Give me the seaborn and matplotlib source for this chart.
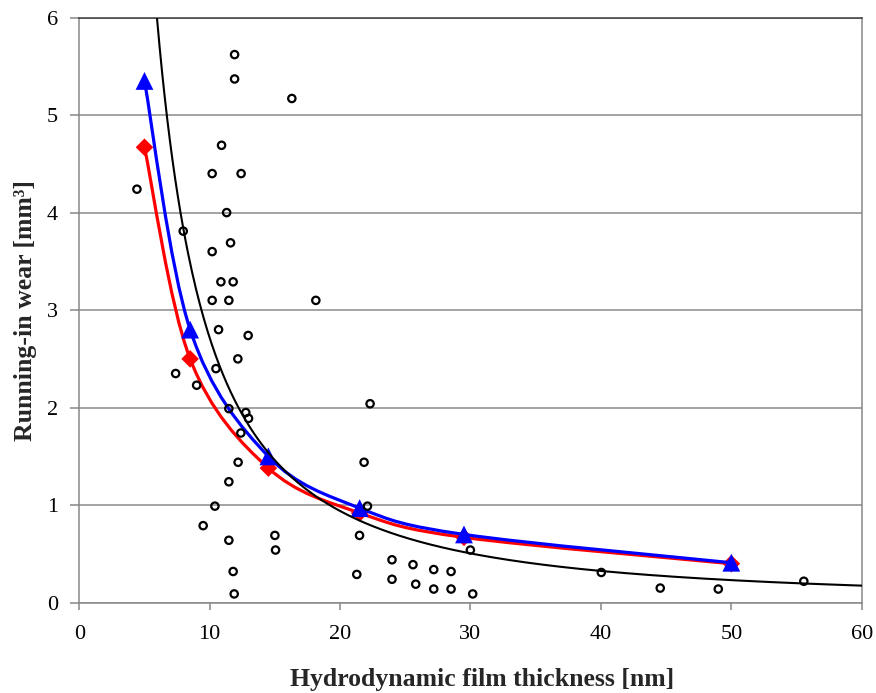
import numpy as np
import pandas as pd
import matplotlib
matplotlib.use("Agg")
import matplotlib.pyplot as plt
from matplotlib.path import Path
from matplotlib.patches import PathPatch
import seaborn as sns

# Measured running-in wear versus hydrodynamic film thickness
film_nm = [11.91, 11.91, 16.30, 10.91, 10.19, 12.41, 4.42, 11.30, 7.97, 11.60,
           10.19, 10.86, 11.80, 10.19, 11.47, 18.14, 10.68, 12.95, 12.16, 10.48,
           7.39, 9.00, 11.47, 12.77, 12.98, 12.39, 12.18, 11.47, 10.40, 9.50,
           11.47, 15.00, 15.05, 11.80, 11.88, 22.30, 21.84, 22.10, 21.49, 21.28,
           23.98, 23.98, 25.59, 25.80, 27.18, 27.18, 28.51, 28.51, 29.99, 30.17,
           40.03, 44.55, 49.00, 55.56]
wear_mm3 = [5.62, 5.37, 5.17, 4.69, 4.40, 4.40, 4.24, 4.00, 3.81, 3.69,
            3.60, 3.29, 3.29, 3.10, 3.10, 3.10, 2.80, 2.74, 2.50, 2.40,
            2.35, 2.23, 1.99, 1.95, 1.89, 1.74, 1.44, 1.24, 0.99, 0.79,
            0.64, 0.69, 0.54, 0.32, 0.09, 2.04, 1.44, 0.99, 0.69, 0.29,
            0.44, 0.24, 0.39, 0.19, 0.34, 0.14, 0.32, 0.14, 0.54, 0.09,
            0.31, 0.15, 0.14, 0.22]

# Model series evaluated at fixed film thicknesses
model_film = [5.0, 8.5, 14.5, 21.5, 29.5, 50.0]
model_blue = [5.35, 2.80, 1.50, 0.97, 0.70, 0.41]
model_red = [4.67, 2.50, 1.38, 0.92, 0.67, 0.40]

# Power-law trendline  wear = A * h^B
TREND_A = 92.0
TREND_B = -1.53

x_ticks = [0, 10, 20, 30, 40, 50, 60]
y_ticks = [0, 1, 2, 3, 4, 5, 6]

sns.set_theme(style="white")
plt.rcParams["font.family"] = ["Liberation Serif", "DejaVu Serif"]

fig = plt.figure(figsize=(8.76, 6.93), dpi=100)
ax = fig.add_axes([0.0905, 0.1303, 0.8932, 0.8444])
ax.set_xlim(0, 60)
ax.set_ylim(0, 6)


def smooth_path(xs, ys):
    """Cubic Bezier path through the points (Catmull-Rom style tangents)."""
    pts = np.column_stack([xs, ys]).astype(float)
    n = len(pts)
    verts = [pts[0]]
    codes = [Path.MOVETO]
    for i in range(n - 1):
        p0 = pts[i - 1] if i > 0 else pts[i]
        p1 = pts[i]
        p2 = pts[i + 1]
        p3 = pts[i + 2] if i + 2 < n else pts[i + 1]
        verts += [p1 + (p2 - p0) / 6.0, p2 - (p3 - p1) / 6.0, p2]
        codes += [Path.CURVE4] * 3
    return Path(verts, codes)


# smoothed model curves
ax.add_patch(PathPatch(smooth_path(model_film, model_red), facecolor="none",
                       edgecolor="#ff0000", lw=2.3, zorder=3))
ax.add_patch(PathPatch(smooth_path(model_film, model_blue), facecolor="none",
                       edgecolor="#0000ff", lw=2.3, zorder=4))

models = pd.DataFrame({"film": model_film, "red": model_red, "blue": model_blue})
sns.scatterplot(data=models, x="film", y="red", marker="D", s=80,
                color="#ff0000", edgecolor="none", ax=ax, zorder=3.5)
sns.scatterplot(data=models, x="film", y="blue", marker="^", s=165,
                color="#0000ff", edgecolor="none", ax=ax, zorder=4.5)

# measured points
meas = pd.DataFrame({"film": film_nm, "wear": wear_mm3})
sns.scatterplot(data=meas, x="film", y="wear", marker="o", s=28,
                facecolor="none", edgecolor="black", linewidth=1.6,
                ax=ax, zorder=5)

# power-law trendline
xt = np.linspace(0.5, 60, 600)
sns.lineplot(x=xt, y=TREND_A * xt ** TREND_B, color="black", lw=1.5,
             ax=ax, zorder=6, sort=False)

# axes styling
ax.set_xticks(x_ticks)
ax.set_yticks(y_ticks)
ax.set_xticklabels([str(v) for v in x_ticks])
ax.set_yticklabels([str(v) for v in y_ticks])
ax.tick_params(axis="x", direction="out", length=5, width=1.1, color="#888888",
               labelsize=16, pad=11, bottom=True, labelcolor="black")
ax.tick_params(axis="y", direction="out", length=6.5, width=1.1, color="#888888",
               labelsize=16, pad=9, left=True, labelcolor="black")
ax.yaxis.grid(True, color="#8a8a8a", lw=1.1)
ax.xaxis.grid(False)
ax.set_axisbelow(True)
for side in ("left", "bottom", "right"):
    ax.spines[side].set_color("#888888")
    ax.spines[side].set_linewidth(1.1)
ax.spines["top"].set_color("#3a3a3a")
ax.spines["top"].set_linewidth(1.1)

ax.set_xlabel("Hydrodynamic film thickness [nm]", fontsize=18.5,
              fontweight="bold")
ax.xaxis.set_label_coords(0.515, -0.112)
ax.set_ylabel("Running-in wear [mm³]", fontsize=18.5, fontweight="bold")
ax.yaxis.set_label_coords(-0.054, 0.5)

fig.savefig("out.png", dpi=100)
